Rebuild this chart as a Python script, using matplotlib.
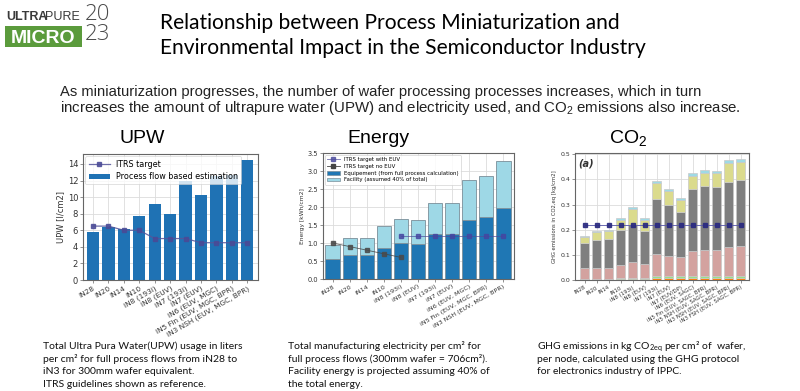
import numpy as np
import matplotlib
matplotlib.use('Agg')
import matplotlib.pyplot as plt
from matplotlib.patches import Rectangle
from matplotlib.lines import Line2D
from matplotlib.patches import Patch

plt.rcParams['mathtext.default'] = 'regular'

W, H = 800, 391

# ---------------- data ----------------
upw_labels = ['iN28', 'iN20', 'iN14', 'iN10', 'iN8 (193i)', 'iN8 (EUV)', 'iN7 (193i)',
              'iN7 (EUV)', 'iN6 (EUV, MGC)', 'iN5 Fin (EUV, MGC, BPR)', 'iN3 NSH (EUV, MGC, BPR)']
upw_values = [5.8, 6.4, 6.2, 7.7, 9.2, 8.0, 11.9, 10.2, 12.5, 12.7, 14.5]
upw_itrs = [6.5, 6.5, 6.0, 6.0, 5.0, 5.0, 5.0, 4.5, 4.5, 4.5, 4.5]

energy_labels = upw_labels
energy_equipment = [0.56, 0.68, 0.67, 0.87, 1.00, 0.98, 1.25, 1.25, 1.65, 1.72, 1.97]
energy_facility = [0.39, 0.47, 0.46, 0.60, 0.68, 0.67, 0.85, 0.85, 1.10, 1.15, 1.30]
energy_itrs_euv = [np.nan, np.nan, np.nan, np.nan, 1.2, 1.2, 1.2, 1.2, 1.2, 1.2, 1.2]
energy_itrs_noeuv = [1.0, 0.9, 0.8, 0.7, 0.6, np.nan, np.nan, np.nan, np.nan, np.nan, np.nan]

co2_labels = ['iN28', 'iN20', 'iN14', 'iN10', 'iN8 (193i)', 'iN8 (EUV)', 'iN7 (193i)',
              'iN7 (EUV)', 'iN7 (EUV/DP)', 'iN6 (EUV, SAGC)', 'iN5 Fin (EUV, SAGC, BPR)',
              'iN5 NSH (EUV, SAGC, BPR)', 'iN3 NSH (EUV, SAGC, BPR)', 'iN3 FSH (EUV, SAGC, BPR)']
co2_orange = [0.002, 0.002, 0.002, 0.004, 0.004, 0.004, 0.008, 0.008, 0.008, 0.008, 0.008, 0.008, 0.008, 0.008]
co2_green = [0.002, 0.002, 0.002, 0.004, 0.004, 0.004, 0.008, 0.006, 0.006, 0.008, 0.008, 0.008, 0.008, 0.009]
co2_pink = [0.044, 0.044, 0.045, 0.053, 0.063, 0.056, 0.088, 0.083, 0.078, 0.098, 0.104, 0.104, 0.114, 0.119]
co2_gray = [0.101, 0.112, 0.114, 0.139, 0.149, 0.131, 0.218, 0.203, 0.178, 0.248, 0.252, 0.248, 0.260, 0.261]
co2_yellow = [0.022, 0.029, 0.031, 0.040, 0.062, 0.043, 0.065, 0.052, 0.048, 0.052, 0.054, 0.056, 0.074, 0.072]
co2_blue = [0.005, 0.005, 0.005, 0.007, 0.007, 0.007, 0.008, 0.008, 0.008, 0.011, 0.011, 0.010, 0.013, 0.013]
co2_itrs = [0.22] * 14

# ---------------- figure ----------------
fig = plt.figure(figsize=(8, 3.91), dpi=100)
fig.patch.set_facecolor('white')


def ax_at(l, t, r, b):
    return fig.add_axes([l / W, 1 - b / H, (r - l) / W, (b - t) / H])


def txt(x, y, s, **kw):
    kw.setdefault('va', 'baseline')
    return fig.text(x / W, 1 - y / H, s, **kw)


def style(ax, fs):
    ax.set_facecolor('white')
    ax.grid(True, color='#dcdcdc', lw=0.6)
    ax.set_axisbelow(True)
    for sp in ax.spines.values():
        sp.set_color('#666666')
        sp.set_linewidth(0.8)
    ax.tick_params(labelsize=fs, length=2, width=0.5, color='#666666', pad=1.5, labelcolor='#333333')


# ---------------- header ----------------
txt(6, 20, 'ULTRA', fontsize=9, fontweight='bold', color='#3a3a3a', family='Liberation Sans')
txt(45, 20, 'PURE', fontsize=9, color='#3a3a3a', family='Liberation Sans')
fig.patches.append(Rectangle((5 / W, 1 - 47 / H), 77 / W, 21 / H, transform=fig.transFigure,
                             facecolor='#5b9b3c', edgecolor='none'))
txt(43.5, 43, 'MICRO', fontsize=14, fontweight='bold', color='white', ha='center',
    family='Liberation Sans')
txt(85, 4, '20\n23', fontsize=16, color='#4a4a4a', family='Open Sans', fontweight='light',
    va='top', linespacing=0.92)

txt(160, 29, 'Relationship between Process Miniaturization and', fontsize=15.1, family='Lato', color='black')
txt(160, 54, 'Environmental Impact in the Semiconductor Industry', fontsize=15.1, family='Lato', color='black')

txt(60, 96, 'As miniaturization progresses, the number of wafer processing processes increases, which in turn',
    fontsize=10.65, family='Liberation Sans', color='#222222')
txt(60, 112, 'increases the amount of ultrapure water (UPW) and electricity used, and CO$_2$ emissions also increase.',
    fontsize=10.8, family='Liberation Sans', color='#222222')

txt(142, 143, 'UPW', fontsize=14, family='Liberation Sans', ha='center')
txt(378, 143, 'Energy', fontsize=14, family='Liberation Sans', ha='center')
txt(628, 143, 'CO$_2$', fontsize=14, family='Liberation Sans', ha='center')

# ---------------- captions ----------------
cap_kw = dict(fontsize=7.5, family='Lato', color='#111111')
cap1 = ['Total Ultra Pura Water(UPW) usage in liters',
        'per cm\u00b2 for full process flows from iN28 to',
        'iN3 for 300mm wafer equivalent.',
        'ITRS guidelines shown as reference.']
cap2 = ['Total manufacturing electricity per cm\u00b2 for',
        'full process flows (300mm wafer = 706cm\u00b2).',
        'Facility energy is projected assuming 40% of',
        'the total energy.']
cap3 = ['GHG emissions in kg CO$_{2eq}$ per cm\u00b2 of  wafer,',
        'per node, calculated using the GHG protocol',
        'for electronics industry of IPPC.']
for i, s in enumerate(cap1):
    txt(43, 349 + 12.6 * i, s, **cap_kw)
for i, s in enumerate(cap2):
    txt(288, 349 + 12.6 * i, s, **cap_kw)
for i, s in enumerate(cap3):
    txt(537, 349 + 12.6 * i, s, **cap_kw)

# ---------------- UPW chart ----------------
ax1 = ax_at(83, 154, 258, 280)
style(ax1, 6)
x = np.arange(len(upw_labels))
ax1.bar(x, upw_values, width=0.8, color='#1f72b4', zorder=2, label='Process flow based estimation')
ax1.plot(x, upw_itrs, color='#55559a', lw=0.9, marker='s', ms=3.2, mfc='#4a4a96', mec='#4a4a96',
         alpha=0.85, zorder=3, label='ITRS target')
ax1.set_xlim(-0.65, 10.7)
ax1.set_ylim(0, 15.2)
ax1.set_yticks(np.arange(0, 15, 2))
ax1.set_xticks(x)
ax1.set_xticklabels(upw_labels, rotation=30, ha='right', rotation_mode='anchor', fontsize=5.3)
ax1.set_ylabel('UPW [l/cm2]', fontsize=6, labelpad=2, color='#333333')
leg = ax1.legend(loc='upper left', fontsize=5.8, frameon=True, framealpha=0.8, edgecolor='#cccccc',
                 borderpad=0.4, handlelength=2.6, labelspacing=0.45, borderaxespad=0.3)
leg.get_frame().set_linewidth(0.5)

# ---------------- Energy chart ----------------
ax2 = ax_at(323, 153, 514, 279)
style(ax2, 4.8)
x2 = np.arange(len(energy_labels))
ax2.bar(x2, energy_equipment, width=0.85, color='#1f77b4', edgecolor='#7a8e99', lw=0.6, zorder=2)
ax2.bar(x2, energy_facility, bottom=energy_equipment, width=0.85, color='#9ed8e6',
        edgecolor='#7a8e99', lw=0.6, zorder=2)
ax2.plot(x2, energy_itrs_euv, color='#4c4c9c', lw=0.6, marker='s', ms=3, mfc='#4545a0', mec='#4545a0',
         alpha=0.8, zorder=3)
ax2.plot(x2, energy_itrs_noeuv, color='#444444', lw=0.6, marker='s', ms=3, mfc='#4a4a4a', mec='#4a4a4a',
         alpha=0.85, zorder=3)
ax2.set_xlim(-0.57, 10.63)
ax2.set_ylim(0, 3.5)
ax2.set_yticks(np.arange(0, 3.51, 0.5))
ax2.set_xticks(x2)
ax2.set_xticklabels(energy_labels, rotation=30, ha='right', rotation_mode='anchor', fontsize=4.6)
ax2.set_ylabel('Energy [kWh/cm2]', fontsize=4.3, labelpad=2, color='#333333')
handles = [Line2D([], [], color='#4c4c9c', lw=0.6, marker='s', ms=2.5, alpha=0.8),
           Line2D([], [], color='#444444', lw=0.6, marker='s', ms=2.5),
           Patch(facecolor='#1f77b4', edgecolor='#7a8e99', lw=0.5),
           Patch(facecolor='#9ed8e6', edgecolor='#7a8e99', lw=0.5)]
leg2 = ax2.legend(handles, ['ITRS target with EUV', 'ITRS target no EUV',
                            'Equipement (from full process calculation)', 'Facility (assumed 40% of total)'],
                  loc='upper left', fontsize=3.9, frameon=True, framealpha=0.85, edgecolor='#cccccc',
                  borderpad=0.4, handlelength=2.4, labelspacing=0.35, borderaxespad=0.3)
leg2.get_frame().set_linewidth(0.5)

# ---------------- CO2 chart ----------------
ax3 = ax_at(575, 153, 749, 280)
style(ax3, 4.5)
x3 = np.arange(len(co2_labels))
layers = [(co2_orange, '#ff7f0e'), (co2_green, '#98df8a'), (co2_pink, '#d3a29f'),
          (co2_gray, '#7f7f7f'), (co2_yellow, '#dbdb8d'), (co2_blue, '#9edae5')]
bottom = np.zeros(len(co2_labels))
for vals, col in layers:
    ax3.bar(x3, vals, bottom=bottom, width=0.78, color=col, edgecolor='#c9c9c9', lw=0.5, zorder=2)
    bottom = bottom + np.array(vals)
ax3.plot(x3, co2_itrs, color='#5a5aa8', lw=0.7, marker='s', ms=3.2, mfc='#2a2a80', mec='#2a2a80',
         zorder=3, alpha=0.9)
ax3.set_xlim(-0.8, 13.7)
ax3.set_ylim(0, 0.505)
ax3.set_yticks(np.arange(0, 0.51, 0.1))
ax3.set_xticks(x3)
ax3.set_xticklabels(co2_labels, rotation=30, ha='right', rotation_mode='anchor', fontsize=3.9)
ax3.set_ylabel('GHG emissions in CO2,eq [kg/cm2]', fontsize=3.8, labelpad=2, color='#333333')
ax3.text(0.02, 0.96, '(a)', transform=ax3.transAxes, fontsize=7, fontweight='bold', fontstyle='italic',
         va='top', ha='left', color='#333333')

fig.savefig('out.png', dpi=100)
